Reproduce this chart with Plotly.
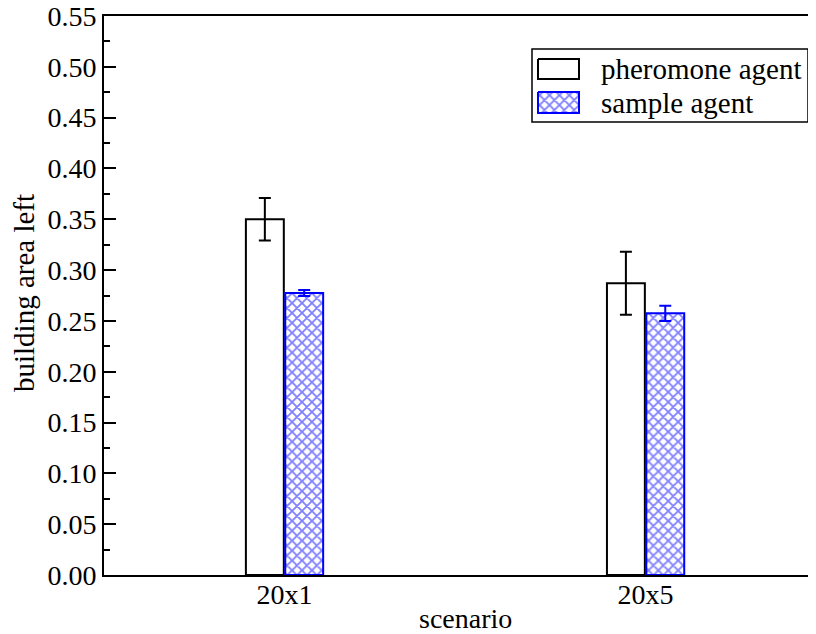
import plotly.graph_objects as go

scenarios = ["20x1", "20x5"]
pheromone_vals = [0.350, 0.287]
pheromone_err = [0.021, 0.031]
sample_vals = [0.2775, 0.2575]
sample_err = [0.003, 0.0075]
series_names = ["pheromone agent", "sample agent"]

FONT = "Liberation Serif, Times New Roman, serif"
BLUE = "#0000ff"
# page body has an 8px margin; figure sized so the plot frame lands at (104,16)-(816,575)
W, H = 808, 626
L, R, T, B = 96, 0, 8, 59
PL, PT, PR, PB = 104, 16, 816, 575  # plot area in window pixels (for legend overlay)

fig = go.Figure()
fig.add_trace(go.Bar(
    x=scenarios, y=pheromone_vals, name=series_names[0],
    width=0.105, offset=-0.107,
    marker=dict(color="white", line=dict(color="black", width=2)),
    error_y=dict(type="data", array=pheromone_err, color="black", thickness=2, width=6),
    showlegend=False,
))
fig.add_trace(go.Bar(
    x=scenarios, y=sample_vals, name=series_names[1],
    width=0.105, offset=0.002,
    marker=dict(color="white", line=dict(color=BLUE, width=2),
                pattern=dict(shape="x", fgcolor=BLUE, bgcolor="white", size=7, solidity=0.45)),
    error_y=dict(type="data", array=sample_err, color=BLUE, thickness=2, width=6),
    showlegend=False,
))

# custom legend drawn on an overlay axis measured in window pixels
lx0, ly0, lx1, ly1 = 532, 49, 808, 122
fig.add_trace(go.Scatter(
    x=[538, 579, 579, 538, 538], y=[59, 59, 79, 79, 59], xaxis="x2", yaxis="y2",
    mode="lines", fill="toself", fillcolor="white",
    line=dict(color="black", width=2), showlegend=False, hoverinfo="skip"))
fig.add_trace(go.Scatter(
    x=[538, 579, 579, 538, 538], y=[92, 92, 113, 113, 92], xaxis="x2", yaxis="y2",
    mode="lines", fill="toself", fillcolor="white",
    fillpattern=dict(shape="x", fgcolor=BLUE, bgcolor="white", size=7, solidity=0.45),
    line=dict(color=BLUE, width=2), showlegend=False, hoverinfo="skip"))
fig.add_shape(type="rect", xref="x2", yref="y2", x0=lx0, y0=ly0, x1=lx1, y1=ly1,
              line=dict(color="black", width=1.5), fillcolor="rgba(0,0,0,0)", layer="above")
for name, yc in zip(series_names, [69, 102.5]):
    fig.add_annotation(x=599, y=yc, xref="x2", yref="y2", text=name, showarrow=False,
                       xanchor="left", yanchor="middle",
                       font=dict(family=FONT, size=29, color="black"))

# axis titles
fig.add_annotation(x=(465 - PL) / (PR - PL), y=(PB - 618) / (PB - PT), xref="paper", yref="paper",
                   text="scenario", showarrow=False, xanchor="center", yanchor="middle",
                   font=dict(family=FONT, size=28, color="black"))
fig.add_annotation(x=(24 - PL) / (PR - PL), y=(PB - 293) / (PB - PT), xref="paper", yref="paper",
                   text="building area left", showarrow=False, textangle=-90,
                   xanchor="center", yanchor="middle",
                   font=dict(family=FONT, size=29, color="black"))

fig.update_layout(
    width=W, height=H,
    margin=dict(l=L, r=R, t=T, b=B, autoexpand=False),
    paper_bgcolor="white", plot_bgcolor="white",
    font=dict(family=FONT, color="black", size=28),
    barmode="overlay",
    xaxis=dict(
        type="category", range=[-0.5, 1.472], automargin=False,
        showline=True, linecolor="black", linewidth=2, mirror=True,
        ticks="", showgrid=False, zeroline=False, ticklabelstandoff=-7,
        tickfont=dict(family=FONT, size=28),
    ),
    yaxis=dict(
        range=[0, 0.55], dtick=0.05, tickformat=".2f", automargin=False,
        ticklabeloverflow="allow",
        showline=True, linecolor="black", linewidth=2,
        ticks="inside", ticklen=12, tickwidth=1.5, tickcolor="black",
        minor=dict(ticks="inside", ticklen=6, tickwidth=1.5, tickcolor="black", dtick=0.025),
        showgrid=False, zeroline=False,
        tickfont=dict(family=FONT, size=28),
    ),
    xaxis2=dict(overlaying="x", range=[PL, PR], visible=False),
    yaxis2=dict(overlaying="y", range=[PB, PT], visible=False),
)

fig.write_html("out.html")
